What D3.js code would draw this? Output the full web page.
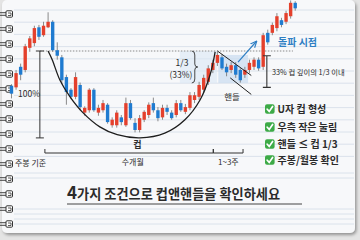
<!DOCTYPE html>
<html>
<head>
<meta charset="utf-8">
<script src="https://cdn.jsdelivr.net/npm/d3@7"></script>
<style>
  html, body { margin: 0; padding: 0; background: #e4e4e4; }
  svg { display: block; font-family: "Noto Sans CJK KR", "Noto Sans", sans-serif; }
</style>
</head>
<body>
<div id="chart"></div>
<script>
// weekly candles, price as % of cup depth (rim = 100, cup bottom = 0)
const opens  = [56,54,80,76,104,110,130,120,130,137,101,92,67,51,42,57,22,25,51,22,25,32,6,6,16,6,34,9,0,13,19,34,25,16,28,22,19,34,23,28,38,42,51,61,76,85,92,80,76,82,76,70,76,80,89,80,123,123,129,139,137,144,161];
const highs  = [58,76,84,109,119,132,133,137,149,139,111,95,70,53,73,60,30,53,53,32,38,34,16,25,19,41,38,15,19,25,35,41,29,32,32,25,38,38,33,48,48,61,70,82,89,99,96,84,86,86,78,80,89,92,92,123,127,136,148,142,151,164,163];
const lows   = [40,51,63,73,99,106,114,118,129,99,89,58,32,39,39,25,18,22,23,18,22,8,3,3,6,4,13,-3,-3,10,15,22,11,13,19,13,16,23,20,25,34,38,47,57,72,81,76,68,72,66,60,66,72,76,75,76,108,120,125,130,134,141,151];
const closes = [46,72,70,106,116,129,118,132,137,101,94,63,48,42,67,29,28,51,25,28,34,10,13,22,10,34,15,0,15,23,32,25,15,28,23,15,34,25,29,44,44,57,66,78,85,95,78,73,82,70,63,76,85,89,78,120,111,133,144,133,148,161,154];

// cup outline (candle index, price)
const cupArcIdx   = [8.0, 8.9, 10.6, 12.8, 15.6, 19.3, 23.1, 28.1, 33.5, 37.9, 41.2, 43.4, 44.5];
const cupArcPrice = [100, 89, 63, 42, 22, 4, -6, -10, -4, 13, 38, 70, 99];

const checklist = ["U자 컵 형성", "우측 작은 눌림", "핸들 ≤ 컵 1/3", "주봉/월봉 확인"];

const W = 360, H = 240;
const RED = "#e4402c", BLUE = "#1f7bd0", INK = "#2b2b2b";

const candles = opens.map((o, i) => ({i: i, o: o, h: highs[i], l: lows[i], c: closes[i]}));

var x = d3.scaleLinear().domain([-0.5, candles.length - 0.5]).range([9.2, 297.5]);
var y = d3.scaleLinear().domain([0, 100]).range([130, 51]);
var step = x(1) - x(0);
var bw = step * 0.74;

var svg = d3.select("#chart").append("svg")
  .attr("width", W).attr("height", H);

var defs = svg.append("defs");
defs.append("filter").attr("id", "sh").attr("x", "-5%").attr("y", "-5%").attr("width", "115%").attr("height", "115%")
  .append("feDropShadow").attr("dx", 1.5).attr("dy", 2).attr("stdDeviation", 1.6).attr("flood-opacity", 0.35);
defs.append("marker").attr("id", "arr").attr("viewBox", "0 0 10 10")
  .attr("refX", 8).attr("refY", 5).attr("markerWidth", 6).attr("markerHeight", 6)
  .attr("orient", "auto")
  .append("path").attr("d", "M0,1 L9,5 L0,9").attr("fill", "none")
  .attr("stroke", "#2f7fc4").attr("stroke-width", 1.6);

// paper card
svg.append("rect").attr("x", 2).attr("y", 0).attr("width", 353).attr("height", 233)
  .attr("rx", 5).attr("fill", "#f7f8fa").attr("filter", "url(#sh)");

// ruled lines
var rules = d3.range(10, 168, 12.2).concat([173, 178, 209, 214, 219, 224]);
svg.append("g").selectAll("line").data(rules).join("line")
  .attr("x1", 14).attr("x2", 354).attr("y1", d => d).attr("y2", d => d)
  .attr("stroke", "#d3dce7").attr("stroke-width", 0.8);

// spiral binding
var rings = svg.append("g").selectAll("g").data(d3.range(14, 230, 15)).join("g")
  .attr("transform", d => "translate(0," + d + ")");
rings.append("line").attr("x1", 0).attr("x2", 6).attr("y1", -1.3).attr("y2", -1.3).attr("stroke", "#444").attr("stroke-width", 1);
rings.append("line").attr("x1", 0).attr("x2", 6).attr("y1", 1.3).attr("y2", 1.3).attr("stroke", "#444").attr("stroke-width", 1);
rings.append("rect").attr("x", 6).attr("y", -3.2).attr("width", 6.5).attr("height", 6.4).attr("rx", 1)
  .attr("fill", "#fff").attr("stroke", "#333").attr("stroke-width", 1);
rings.append("path").attr("d", "M8,-1 H11 V1.5 H8").attr("fill", "none").attr("stroke", "#333").attr("stroke-width", 0.8);

// light shading behind the 1/3 brace and the handle
svg.append("rect").attr("x", x(36.8)).attr("y", y(100)).attr("width", x(44.9) - x(36.8)).attr("height", y(59.5) - y(100))
  .attr("fill", "#dbe8f5").attr("opacity", 0.6);
svg.append("rect").attr("x", x(45.2)).attr("y", y(95)).attr("width", x(51.7) - x(45.2)).attr("height", y(59.5) - y(95))
  .attr("fill", "#c9dcf0").attr("opacity", 0.7);

// rim line
svg.append("line").attr("x1", x(6.2)).attr("x2", x(61.5)).attr("y1", y(100)).attr("y2", y(100))
  .attr("stroke", "#8a8a8a").attr("stroke-width", 1).attr("stroke-dasharray", "1.5,1.5");

// candles
var cg = svg.append("g").selectAll("g").data(candles).join("g");
cg.append("line")
  .attr("x1", d => x(d.i)).attr("x2", d => x(d.i))
  .attr("y1", d => y(d.h)).attr("y2", d => y(d.l))
  .attr("stroke", "#6e6e6e").attr("stroke-width", 0.8);
cg.append("rect")
  .attr("x", d => x(d.i) - bw / 2).attr("width", bw)
  .attr("y", d => y(Math.max(d.o, d.c)))
  .attr("height", d => Math.max(1, Math.abs(y(d.o) - y(d.c))))
  .attr("fill", d => d.c >= d.o ? RED : BLUE);

// cup outline
var cupLine = d3.line().x(d => x(d[0])).y(d => y(d[1])).curve(d3.curveCatmullRom);
svg.append("path").datum(cupArcIdx.map((v, k) => [v, cupArcPrice[k]]))
  .attr("d", cupLine).attr("fill", "none").attr("stroke", "#1e1e1e").attr("stroke-width", 1.3);

// handle channel
svg.append("line").attr("x1", x(45.0)).attr("y1", y(100)).attr("x2", x(52.4)).attr("y2", y(69))
  .attr("stroke", "#1e1e1e").attr("stroke-width", 1);
svg.append("line").attr("x1", x(47.8)).attr("y1", y(66)).attr("x2", x(52.4)).attr("y2", y(45))
  .attr("stroke", "#1e1e1e").attr("stroke-width", 1);

// 100% depth marker
var dx = x(6.2);
svg.append("path").attr("d", "M" + (dx - 4) + "," + y(100) + "H" + (dx + 4) + "M" + dx + "," + y(100) + "V" + y(-10) + "M" + (dx - 4) + "," + y(-10) + "H" + (dx + 4))
  .attr("fill", "none").attr("stroke", "#333").attr("stroke-width", 1);

// 33% marker on the right
var rx = x(55.8);
svg.append("path").attr("d", "M" + (rx - 4) + "," + y(94) + "H" + (rx + 4) + "M" + rx + "," + y(94) + "V" + y(54) + "M" + (rx - 4) + "," + y(54) + "H" + (rx + 4))
  .attr("fill", "none").attr("stroke", "#333").attr("stroke-width", 1.1);

// brace for 1/3
var bx = x(39.4), by0 = y(100), by1 = y(59.5), bm = (by0 + by1) / 2;
svg.append("path")
  .attr("d", "M" + bx + "," + by0 + " Q" + (bx + 3) + "," + by0 + " " + (bx + 3) + "," + (by0 + 4) +
    " V" + (bm - 3) + " Q" + (bx + 3) + "," + bm + " " + (bx + 6) + "," + bm +
    " Q" + (bx + 3) + "," + bm + " " + (bx + 3) + "," + (bm + 3) +
    " V" + (by1 - 4) + " Q" + (bx + 3) + "," + by1 + " " + bx + "," + by1)
  .attr("fill", "none").attr("stroke", "#333").attr("stroke-width", 0.9);

// breakout arrow
svg.append("line").attr("x1", x(49.5)).attr("y1", y(86)).attr("x2", x(53.5)).attr("y2", y(112))
  .attr("stroke", "#2f7fc4").attr("stroke-width", 1.2).attr("marker-end", "url(#arr)");

// time brackets under the chart
var bY = 153;
[[7.3, 44.1], [44.1, 50.6]].forEach(function(b) {
  svg.append("path").attr("d", "M" + x(b[0]) + "," + (bY - 4) + "V" + bY + "H" + x(b[1]) + "V" + (bY - 4))
    .attr("fill", "none").attr("stroke", "#333").attr("stroke-width", 1);
});

// labels
function label(t, px, py, size, opts) {
  opts = opts || {};
  return svg.append("text").attr("x", px).attr("y", py).text(t)
    .attr("font-size", size).attr("fill", opts.fill || INK)
    .attr("font-weight", opts.bold ? 700 : 400)
    .attr("text-anchor", opts.anchor || "start");
}
label("100%", 29, 97, 8.5, {anchor: "middle"});
label("1/3", 182, 66, 8.5, {anchor: "middle"});
label("(33%)", 181, 78, 8.5, {anchor: "middle"});
label("핸들", 232, 100, 8.5, {anchor: "middle"});
label("돌파 시점", 278, 46, 10, {fill: "#2f7fc4", bold: true});
label("33% 컵 깊이의 1/3 이내", 272, 75, 7.3);
label("컵", x(27.5), 148, 9, {anchor: "middle", bold: true});
label("수개월", x(26.5), 165, 8, {anchor: "middle"});
label("1~3주", x(47.4), 165, 8, {anchor: "middle"});
label("주봉 기준", 15, 166, 8);

// checklist
var rowsY = [109, 127, 144, 160];
var items = svg.append("g").selectAll("g").data(checklist).join("g")
  .attr("transform", (d, k) => "translate(265," + rowsY[k] + ")");
items.append("rect").attr("x", 0).attr("y", -4.8).attr("width", 9.6).attr("height", 9.6).attr("rx", 2)
  .attr("fill", "#3daa47");
items.append("path").attr("d", "M2.2,0.2 L4.2,2.4 L7.6,-2.6").attr("fill", "none")
  .attr("stroke", "#fff").attr("stroke-width", 1.7).attr("stroke-linecap", "round");
items.append("text").attr("x", 12.5).attr("y", 4).text(d => d)
  .attr("font-size", 10).attr("font-weight", 700).attr("fill", INK);

// title
var title = svg.append("text").attr("x", 67).attr("y", 199)
  .attr("font-weight", 700).attr("fill", INK);
title.append("tspan").attr("font-size", 17).text("4");
title.append("tspan").attr("font-size", 13.2).text("가지 조건으로 컵앤핸들을 확인하세요");
svg.append("line").attr("x1", 67).attr("x2", 302).attr("y1", 204).attr("y2", 204)
  .attr("stroke", "#444").attr("stroke-width", 1);
</script>
</body>
</html>
